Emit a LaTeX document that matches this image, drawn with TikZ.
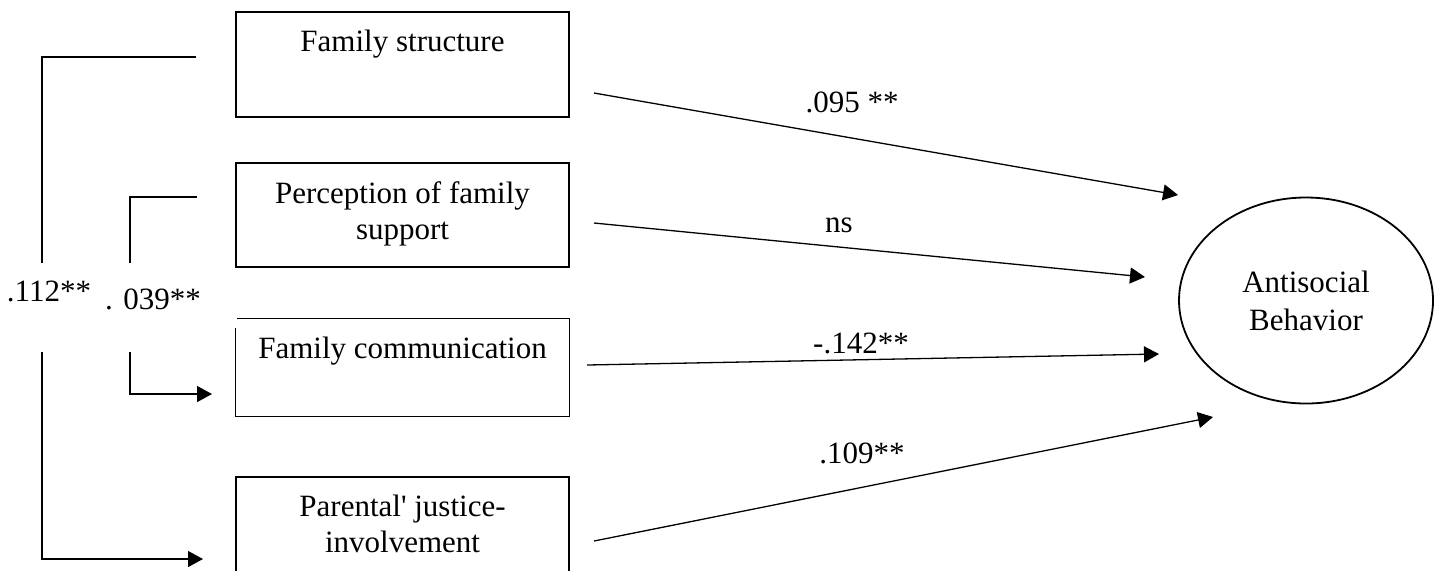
\documentclass[tikz,border=0pt]{standalone}
\usepackage{fontspec}
\setmainfont{Liberation Serif}
\usetikzlibrary{positioning,shapes.geometric,arrows.meta}
\begin{document}
\begin{tikzpicture}
% Path model, coordinates given in pixels of the source figure
\def\pxsz{0.5pt}
\providecommand{\semLineColor}{black}
\providecommand{\semLineWidth}{0.65pt}
\providecommand{\semBoxWidth}{166.5pt}
\begin{scope}[x=\pxsz, y=-\pxsz, line join=miter,
  every node/.style={font=\fontsize{15.5}{18}\selectfont, inner sep=0pt},
  varbox/.style={draw=\semLineColor, line width=\semLineWidth, rectangle, minimum width=\semBoxWidth},
  vartext/.style={align=center},
  coef/.style={anchor=base},
  bracket/.style={draw=\semLineColor, line width=\semLineWidth},
  effect/.style={draw=\semLineColor, line width=\semLineWidth, -{Triangle[length=7.5pt,width=8pt]}}]
  % Page frame
  \useasboundingbox (0,0) rectangle (1438,570);
  \clip (0,0) rectangle (1438,570);
  % Predictor boxes
  \node[varbox, minimum height=52.5pt] (fs) at (402.5,64.5) {};
  \node[varbox, minimum height=52pt] (ps) at (402.5,215) {};
  \node[varbox, draw=none, minimum height=48.5pt] (fc) at (402.5,367.5) {};
  \node[varbox, minimum height=60pt] (pj) at (402.5,537) {};
  % the communication box has an open top left corner
  \draw[bracket] ([xshift=1pt]fc.north west) -- (fc.north east) -- (fc.south east)
    -- (fc.south west) -- ([yshift=-5pt]fc.north west);
  \node[vartext, below=9.3pt of fs.north] (fs-t) {Family structure};
  \node[vartext, below=9.3pt of ps.north] (ps-t) {Perception of family\\support};
  \node[vartext, below=9.3pt of fc.north] (fc-t) {Family communication};
  \node[vartext, below=9.3pt of pj.north] (pj-t) {Parental\textquotesingle{} justice-\\involvement};
  % Outcome
  \node[draw=\semLineColor, line width=0.9pt, ellipse, align=center,
    minimum width=127pt, minimum height=103pt] (asb) at (1306,300.5) {Antisocial\\[1pt]Behavior};
  % Direct effects
  \coordinate (fs-o) at (594,93);
  \coordinate (ps-o) at (594,223);
  \coordinate (fc-o) at (587,365);
  \coordinate (pj-o) at (594,541);
  \coordinate (asb-1) at (1178,195);
  \coordinate (asb-2) at (1145,277);
  \coordinate (asb-3) at (1159,354);
  \coordinate (asb-4) at (1213,417);
  \draw[effect] (fs-o) -- (asb-1);
  \draw[effect] (ps-o) -- (asb-2);
  \draw[effect] (fc-o) -- (asb-3);
  \draw[effect] (pj-o) -- (asb-4);
  \node[coef] (c-fs) at (852,112) {.095 **};
  \node[coef] (c-ps) at (839,232) {ns};
  \node[coef] (c-fc) at (861,353) {-.142**};
  \node[coef] (c-pj) at (862,463) {.109**};
  % Left brackets
  \coordinate (out-a) at (196,57);
  \coordinate (out-b) at (42,263);
  \coordinate (out-c) at (42,352);
  \coordinate (out-d) at (203,559);
  \coordinate (in-a) at (197,197);
  \coordinate (in-b) at (130,263);
  \coordinate (in-c) at (130,352);
  \coordinate (in-d) at (212,394);
  \draw[bracket] (out-a) -| (out-b);
  \draw[effect] (out-c) |- (out-d);
  \draw[bracket] (in-a) -| (in-b);
  \draw[effect] (in-c) |- (in-d);
  \node[coef] (c-out) at (49,301) {.112**};
  \node[coef] (c-in) at (153,309) {. 039**};
\end{scope}
\end{tikzpicture}
\end{document}
